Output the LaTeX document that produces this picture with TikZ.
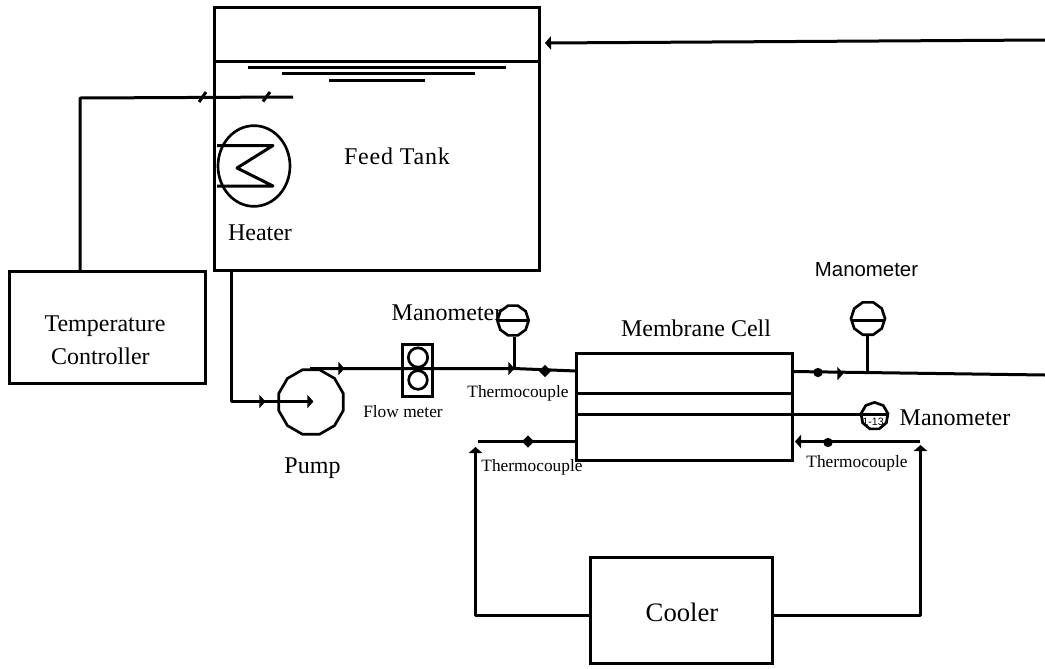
\documentclass[tikz,border=0pt]{standalone}
\usepackage{fontspec}
\setmainfont{Liberation Serif}
\newfontfamily\arialf{Liberation Sans}
\usetikzlibrary{arrows.meta,shapes.geometric}
\tikzset{
  line/.style={line width=2.25pt,black,line join=round},
  boxn/.style={draw,line width=2.25pt,inner sep=0pt,anchor=north west},
  gauge/.style={draw,line width=2pt,regular polygon,regular polygon sides=10,inner sep=0pt},
  lab/.style={inner sep=0pt,font=\fontsize{18}{22}\selectfont,align=center},
  smalllab/.style={inner sep=0pt,font=\fontsize{13}{15}\selectfont},
  arr/.style={-{Triangle[length=4.5pt,width=10pt]}},
  tip/.style={fill=black,inner sep=0pt,isosceles triangle,isosceles triangle stretches,minimum height=4.5pt,minimum width=10pt},
  dia/.style={fill=black,diamond,inner sep=0pt,minimum size=9.5pt},
  dot/.style={fill=black,circle,inner sep=0pt,minimum size=7pt},
}
\begin{document}
\begin{tikzpicture}[x=0.75pt,y=-0.75pt]
\useasboundingbox (0,0) rectangle (1045,668);
\node[boxn,minimum width=244.15pt,minimum height=197.75pt] (tank) at (212.5,5.5) {};
\node[boxn,minimum width=147.35pt,minimum height=84pt] (ctrl) at (8,269.5) {};
\node[boxn,minimum width=162pt,minimum height=80.25pt] (cell) at (574.5,351.5) {};
\node[boxn,minimum width=136.5pt,minimum height=79.5pt] (cooler) at (588.5,555.5) {};
\node[boxn,minimum width=22.85pt,minimum height=39pt] (fm) at (401,342.5) {};
\draw[line] (214,61.5) coordinate (s1) -- (540,61.5) coordinate (s2);
\draw[line] (248,67) coordinate (a1) -- (506,67) coordinate (a2);
\draw[line] (282,73.5) coordinate (b1) -- (475,73.5) coordinate (b2);
\draw[line] (329,80) coordinate (c1) -- (425,80) coordinate (c2);
\coordinate (w0) at (80,271);
\coordinate (w1) at (80,98);
\coordinate (w2) at (293,97);
\draw[line] (w0) -- (w1) -- (w2);
\draw[line] (199,102) -- (206,92);
\draw[line] (263,101.5) -- (270,92);
\node[draw,line width=2pt,ellipse,minimum width=54pt,minimum height=60.5pt,inner sep=0pt] (heater) at (254,166) {};
\draw[line] (217,145.5) -- (273,145.5) -- (237,168) -- (273,186) -- (217,186);
\node[lab] (tfeed) at (397,156) {\addfontfeature{LetterSpace=3.3}Feed Tank};
\node[lab] (theater) at (260,233) {Heater};
\node[lab] (tctrl) at (105,340) {Temperature\\[3pt]Controller\hspace*{7pt}};
\node[draw,line width=2pt,regular polygon,regular polygon sides=12,minimum size=50pt,inner sep=0pt] (pump) at (311,402) {};
\coordinate (o1) at (231,271);
\coordinate (o2) at (231,401.5);
\coordinate (o3) at (309,401.5);
\draw[line] (o1) -- (o2) -- (o3);
\node[tip] (pt1) at (262,401.5) {};
\node[tip] (pt2) at (310,401.5) {};
\coordinate (p1) at (310,368.5);
\coordinate (p2) at (514,368.5);
\coordinate (p3) at (576,371);
\draw[line] (p1) -- (p2) -- (p3);
\node[tip] (pt3) at (341,368.5) {};
\node[tip] (pt4) at (511,368.5) {};
\node[dia] (d1) at (545,371) {};
\node[draw,line width=2pt,circle,minimum size=14.5pt,inner sep=0pt] (f1) at (418,357.5) {};
\node[draw,line width=2pt,circle,minimum size=14pt,inner sep=0pt] (f2) at (418,380) {};
\node[gauge,minimum size=23.5pt] (g1) at (513,320.5) {};
\draw[line] (497.5,320) -- (528.5,320);
\draw[line] (514.5,337) -- (514.5,368.5);
\draw[line] (576,393) -- (792,393);
\coordinate (m1) at (576,414);
\coordinate (m2) at (887,414);
\draw[line] (m1) -- (m2);
\coordinate (r1) at (792,371.5);
\coordinate (r2) at (1045,375);
\draw[line] (r1) -- (r2);
\node[dot] (d2) at (818,372.5) {};
\node[tip] (pt5) at (840,373.5) {};
\node[gauge,minimum size=25.5pt] (g2) at (868,318.5) {};
\draw[line] (851,320) -- (885,320);
\draw[line] (867.5,335) -- (867.5,372);
\node[draw,line width=2pt,regular polygon,regular polygon sides=9,minimum size=20.5pt,inner sep=0pt] (g3) at (874.5,416) {};
\node[inner sep=0pt,font=\arialf\fontsize{8}{9}\selectfont] (g3t) at (873,422) {1-13};
\coordinate (l1) at (478,441.5);
\draw[line] (l1) -- (576,441.5);
\node[dia] (d3) at (528,441.5) {};
\coordinate (cl1) at (590,615);
\coordinate (cl2) at (475.5,615);
\coordinate (cl3) at (475.5,447);
\draw[line,arr] (cl1) -- (cl2) -- (cl3);
\coordinate (cr1) at (772,615);
\coordinate (cr2) at (920.5,615);
\coordinate (cr3) at (920.5,445);
\draw[line,arr] (cr1) -- (cr2) -- (cr3);
\coordinate (rr1) at (920,441.5);
\coordinate (rr2) at (795,441.5);
\draw[line,arr] (rr1) -- (rr2);
\node[dot] (d4) at (828,442.5) {};
\coordinate (in1) at (1045,40);
\coordinate (in2) at (545,43);
\draw[line,arr] (in1) -- (in2);
\node[lab] (tm1) at (447,313) {Manometer};
\node[lab] (tcell) at (696,328) {Membrane Cell};
\node[inner sep=0pt,font=\arialf\fontsize{15.3}{18}\selectfont] (tm2) at (866.5,270) {Manometer};
\node[lab] (tm3) at (955,418) {Manometer};
\node[smalllab] (tf) at (403,412) {Flow meter};
\node[smalllab] (tc1) at (518,393) {Thermocouple};
\node[smalllab] (tc2) at (532,467) {Thermocouple};
\node[smalllab] (tc3) at (857,463) {Thermocouple};
\node[lab] (tpump) at (312.5,468) {Pump};
\node[inner sep=0pt,font=\fontsize{20}{24}\selectfont] (tcool) at (682,612) {Cooler};
\end{tikzpicture}
\end{document}
